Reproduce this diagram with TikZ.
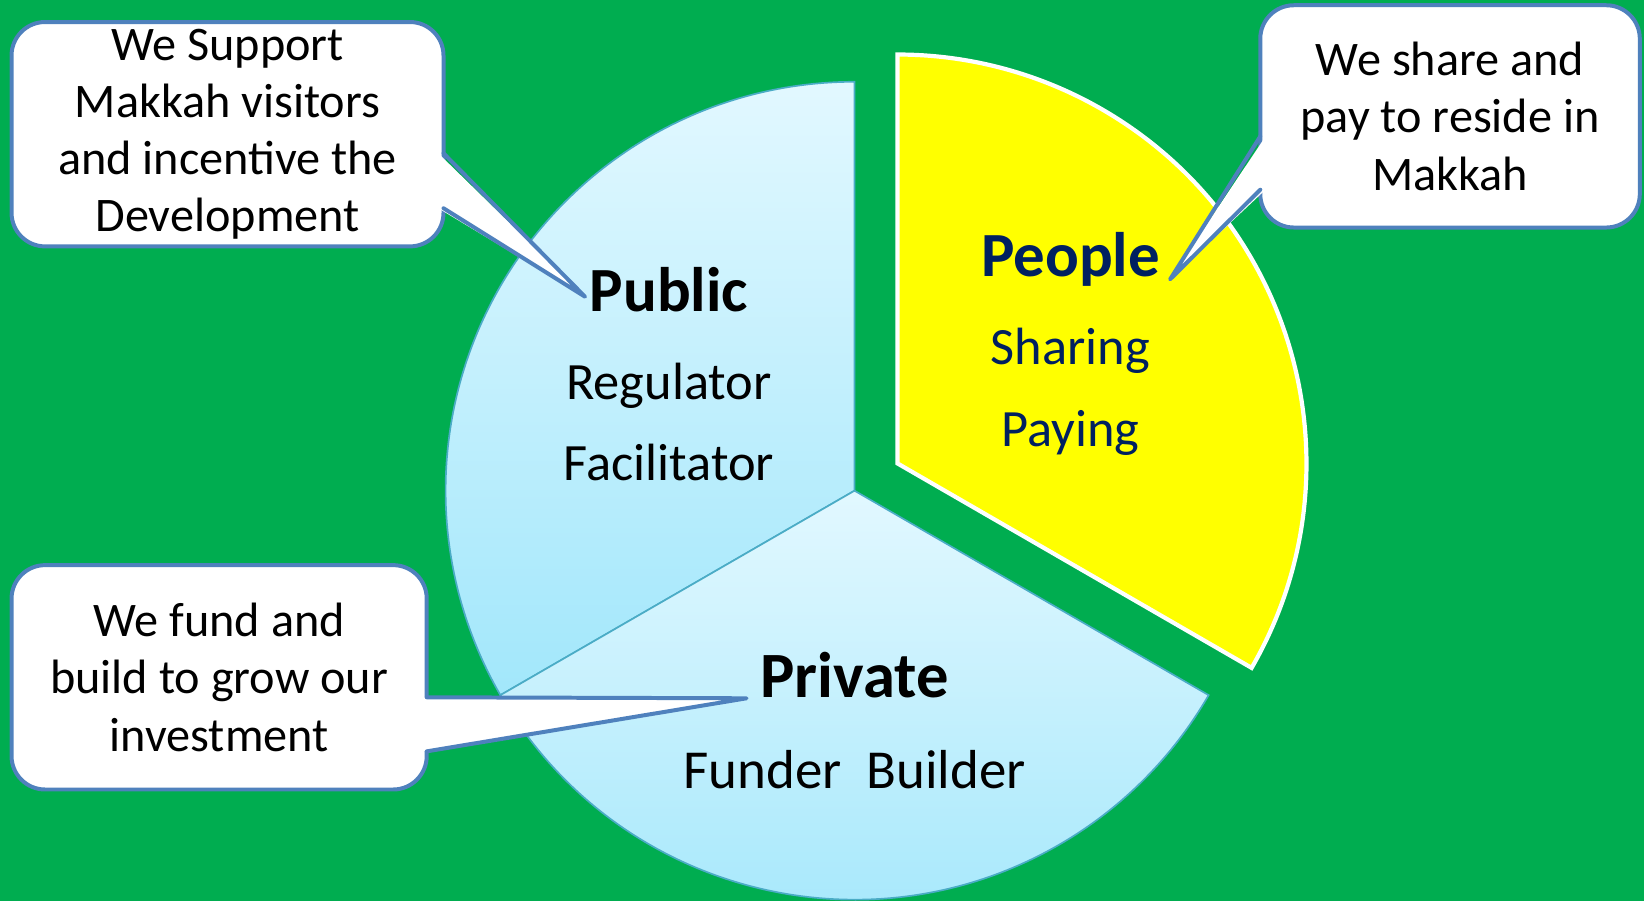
\documentclass[tikz,border=0pt]{standalone}
\usepackage{fontspec}
\setmainfont{Carlito}
\usetikzlibrary{calc}
\definecolor{bggreen}{HTML}{00AD50}
\definecolor{wtop}{RGB}{226,248,255}
\definecolor{wbot}{RGB}{162,231,251}
\definecolor{wline}{RGB}{75,172,198}
\definecolor{pyellow}{HTML}{FFFF00}
\definecolor{dblue}{HTML}{002060}
\definecolor{cline}{RGB}{79,129,189}
\begin{document}
\begin{tikzpicture}[x=0.5pt,y=0.5pt,
  wedge/.style={draw=wline, line width=0.8pt, top color=wtop, bottom color=wbot},
  peoplewedge/.style={fill=pyellow, draw=white, line width=2pt},
  title/.style={font=\fontsize{30}{31}\selectfont\bfseries, anchor=base, inner sep=0pt},
  sub/.style={font=\fontsize{25}{26}\selectfont, anchor=base, inner sep=0pt},
  callout/.style={draw=cline, line width=1.9pt, fill=white, rounded corners=16pt, outer sep=0pt, align=center, font=\fontsize{23}{27.3}\selectfont, inner sep=0pt},
  pointer/.style={draw=cline, line width=1.9pt, line join=round, line cap=round},
]
\fill[bggreen] (0,0) rectangle (1568,859);
\useasboundingbox (0,0) rectangle (1568,859);

% pie
\coordinate (ctr) at (815,391);
\coordinate (pctr) at (856,417);
\path[wedge] (ctr) -- ++(90:390) arc[start angle=90,end angle=210,radius=390] -- cycle;
\path[wedge] (ctr) -- ++(210:390) arc[start angle=210,end angle=330,radius=390] -- cycle;
\path[peoplewedge] (pctr) -- ++(330:390) arc[start angle=330,end angle=450,radius=390] -- cycle;

% labels
\node[title] (public) at (638,562) {Public};
\node[sub] (regulator) at (638,477.5) {Regulator};
\node[sub] (facilitator) at (638,401) {Facilitator};
\node[title, text=dblue] (people) at (1021,595) {People};
\node[sub, text=dblue] (sharing) at (1021,511) {Sharing};
\node[sub, text=dblue] (paying) at (1021,433) {Paying};
\node[title, font=\fontsize{30.8}{31}\selectfont\bfseries] (private) at (815,194) {Private};
\node[sub, font=\fontsize{26.2}{27}\selectfont] (funder) at (815,107) {Funder~~Builder};

% callouts
\node[callout, minimum width=206pt, minimum height=107pt] (c1) at (217,731)
  {We Support\\Makkah visitors\\and incentive the\\Development};
\node[callout, minimum width=181pt, minimum height=106pt] (c2) at (1383,748)
  {We share and\\pay to reside in\\Makkah};
\node[callout, minimum width=198pt, minimum height=107pt] (c3) at (209,213)
  {We fund and\\build to grow our\\investment};

% pointers
\coordinate (c1a) at ($(c1.north east)!0.585!(c1.south east)$);
\coordinate (c1b) at ($(c1.north east)!0.83!(c1.south east)$);
\coordinate (t1) at (558,576);
\fill[white] ($(c1a)+(-5,0)$) -- (t1) -- ($(c1b)+(-5,0)$) -- cycle;
\draw[pointer] (c1a) -- (t1) -- (c1b);

\coordinate (c2a) at ($(c2.north west)!0.59!(c2.south west)$);
\coordinate (c2b) at ($(c2.north west)!0.83!(c2.south west)$);
\coordinate (t2) at (1116,592.6);
\fill[white] ($(c2a)+(5,0)$) -- (t2) -- ($(c2b)+(5,0)$) -- cycle;
\draw[pointer] (c2a) -- (t2) -- (c2b);

\coordinate (c3a) at ($(c3.north east)!0.589!(c3.south east)$);
\coordinate (c3b) at ($(c3.north east)!0.83!(c3.south east)$);
\coordinate (t3) at (712,193);
\fill[white] ($(c3a)+(-5,0)$) -- (t3) -- ($(c3b)+(-5,0)$) -- cycle;
\draw[pointer] (c3a) -- (t3) -- (c3b);
\end{tikzpicture}
\end{document}
